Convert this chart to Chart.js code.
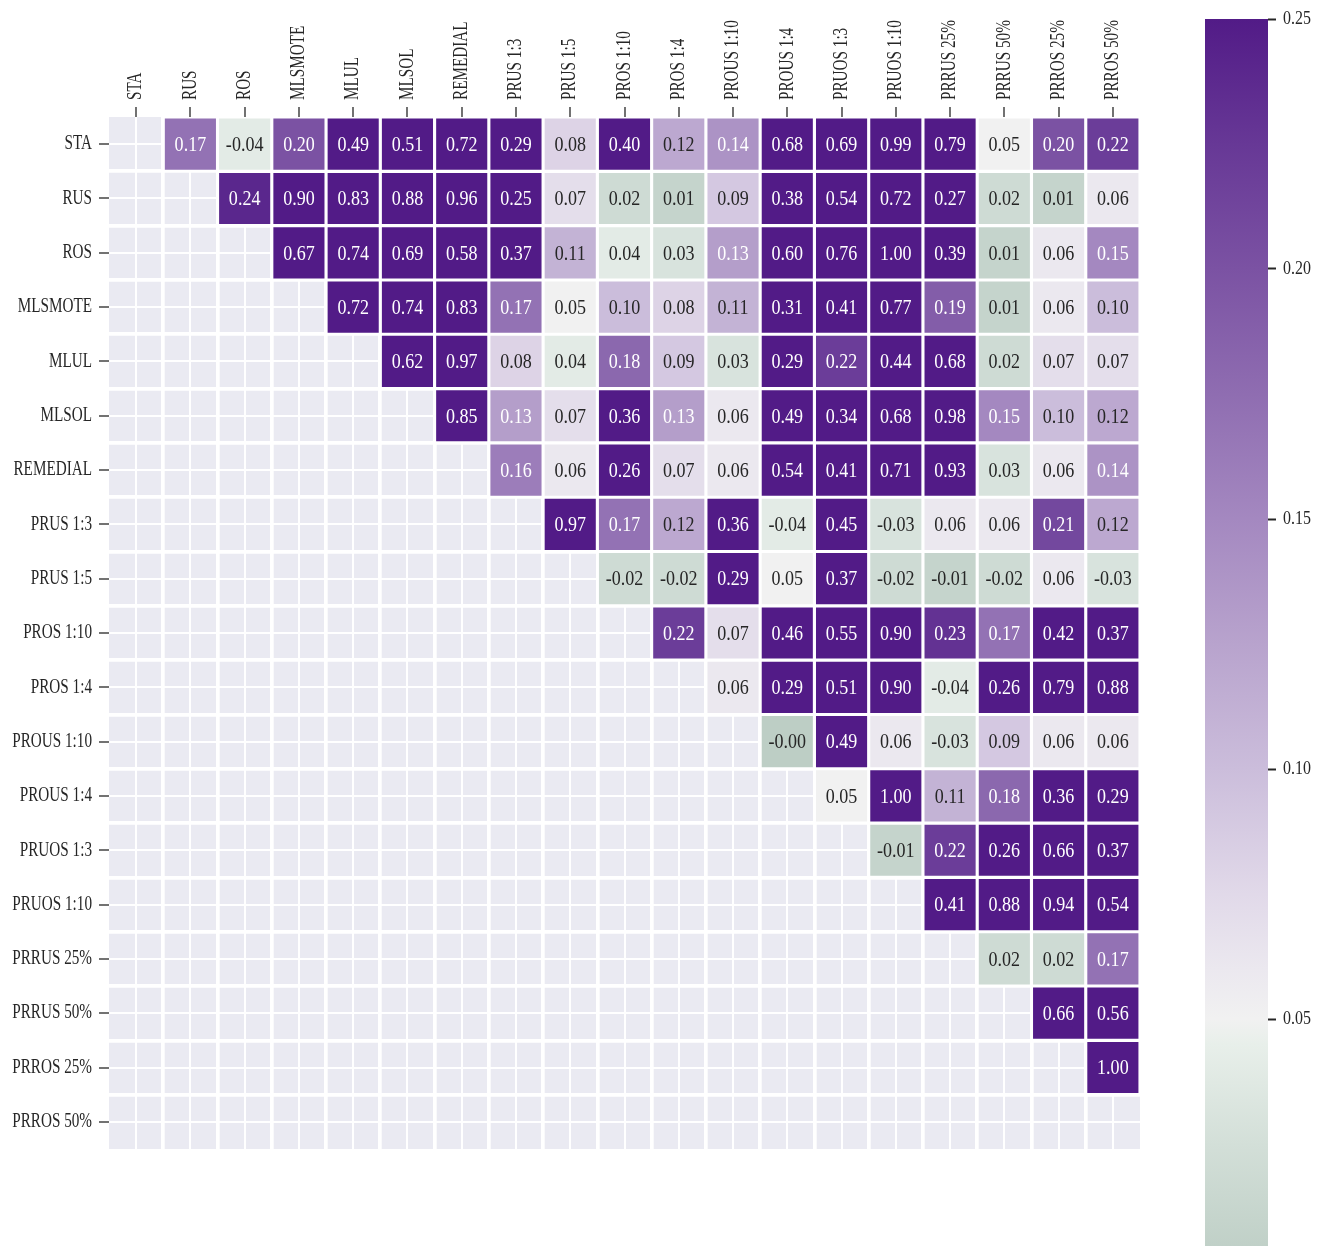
<!DOCTYPE html>
<html>
<head>
<meta charset="utf-8">
<title>Method correlation heatmap</title>
<script src="https://cdn.jsdelivr.net/npm/chart.js@4.4.1/dist/chart.umd.min.js"></script>
<style>
  html, body { margin: 0; padding: 0; background: #fff; overflow: hidden; }
  #wrap { position: relative; width: 1322px; height: 1246px; }
  #heat { position: absolute; left: 0; top: 0; }
  #bar { position: absolute; left: 1190px; top: 0; }
</style>
</head>
<body>
<div id="wrap">
  <canvas id="heat" width="1160" height="1246"></canvas>
  <canvas id="bar" width="132" height="1275"></canvas>
</div>
<script>
const methods = ['STA', 'RUS', 'ROS', 'MLSMOTE', 'MLUL', 'MLSOL', 'REMEDIAL', 'PRUS 1:3', 'PRUS 1:5',
  'PROS 1:10', 'PROS 1:4', 'PROUS 1:10', 'PROUS 1:4', 'PRUOS 1:3', 'PRUOS 1:10',
  'PRRUS 25%', 'PRRUS 50%', 'PRROS 25%', 'PRROS 50%'];

// upper triangle, one array per row, starting right of the diagonal
const rowSTA = [0.17, -0.04, 0.20, 0.49, 0.51, 0.72, 0.29, 0.08, 0.40, 0.12, 0.14, 0.68, 0.69, 0.99, 0.79, 0.05, 0.20, 0.22];
const rowRUS = [0.24, 0.90, 0.83, 0.88, 0.96, 0.25, 0.07, 0.02, 0.01, 0.09, 0.38, 0.54, 0.72, 0.27, 0.02, 0.01, 0.06];
const rowROS = [0.67, 0.74, 0.69, 0.58, 0.37, 0.11, 0.04, 0.03, 0.13, 0.60, 0.76, 1.00, 0.39, 0.01, 0.06, 0.15];
const rowMLSMOTE = [0.72, 0.74, 0.83, 0.17, 0.05, 0.10, 0.08, 0.11, 0.31, 0.41, 0.77, 0.19, 0.01, 0.06, 0.10];
const rowMLUL = [0.62, 0.97, 0.08, 0.04, 0.18, 0.09, 0.03, 0.29, 0.22, 0.44, 0.68, 0.02, 0.07, 0.07];
const rowMLSOL = [0.85, 0.13, 0.07, 0.36, 0.13, 0.06, 0.49, 0.34, 0.68, 0.98, 0.15, 0.10, 0.12];
const rowREMEDIAL = [0.16, 0.06, 0.26, 0.07, 0.06, 0.54, 0.41, 0.71, 0.93, 0.03, 0.06, 0.14];
const rowPRUS13 = [0.97, 0.17, 0.12, 0.36, -0.04, 0.45, -0.03, 0.06, 0.06, 0.21, 0.12];
const rowPRUS15 = [-0.02, -0.02, 0.29, 0.05, 0.37, -0.02, -0.01, -0.02, 0.06, -0.03];
const rowPROS110 = [0.22, 0.07, 0.46, 0.55, 0.90, 0.23, 0.17, 0.42, 0.37];
const rowPROS14 = [0.06, 0.29, 0.51, 0.90, -0.04, 0.26, 0.79, 0.88];
const rowPROUS110 = [-0.001, 0.49, 0.06, -0.03, 0.09, 0.06, 0.06];
const rowPROUS14 = [0.05, 1.00, 0.11, 0.18, 0.36, 0.29];
const rowPRUOS13 = [-0.01, 0.22, 0.26, 0.66, 0.37];
const rowPRUOS110 = [0.41, 0.88, 0.94, 0.54];
const rowPRRUS25 = [0.02, 0.02, 0.17];
const rowPRRUS50 = [0.66, 0.56];
const rowPRROS25 = [1.00];
const rowPRROS50 = [];

const upperRows = [rowSTA, rowRUS, rowROS, rowMLSMOTE, rowMLUL, rowMLSOL, rowREMEDIAL, rowPRUS13, rowPRUS15,
  rowPROS110, rowPROS14, rowPROUS110, rowPROUS14, rowPRUOS13, rowPRUOS110, rowPRRUS25, rowPRRUS50, rowPRROS25, rowPRROS50];

// colour bar range and ticks
const scaleMin = 0;
const scaleMax = 0.25;
const scaleTicks = [0.05, 0.10, 0.15, 0.20, 0.25];

// green -> light -> purple ramp, centred on 0.05
const ramp = [
  [0.000, '#bccdc4'], [0.025, '#d3dfd8'], [0.045, '#e8efea'], [0.050, '#f1f1f1'],
  [0.060, '#ebe8ef'], [0.075, '#e1d9e9'], [0.100, '#cbbddb'], [0.125, '#b8a3cd'],
  [0.150, '#a488c0'], [0.175, '#8f6db1'], [0.200, '#7b52a3'], [0.225, '#673896'], [0.250, '#521b87']
];

const ink = '#262626';
const serif = '"Liberation Serif", "DejaVu Serif", serif';

function hexToRgb(h) {
  const n = parseInt(h.slice(1), 16);
  return [(n >> 16) & 255, (n >> 8) & 255, n & 255];
}

// cells are shaded by magnitude
function colorFor(v) {
  const a = Math.min(Math.max(Math.abs(v), scaleMin), scaleMax);
  for (let i = 1; i < ramp.length; i++) {
    if (a <= ramp[i][0]) {
      const [v0, c0] = ramp[i - 1];
      const [v1, c1] = ramp[i];
      const t = (a - v0) / (v1 - v0);
      const p = hexToRgb(c0), q = hexToRgb(c1);
      return 'rgb(' + p.map((x, k) => Math.round(x + (q[k] - x) * t)).join(',') + ')';
    }
  }
  return ramp[ramp.length - 1][1];
}

// narrow serif text: draw with a horizontal squeeze
function squeezed(ctx, text, x, y, o) {
  ctx.save();
  ctx.translate(x, y);
  if (o.angle) ctx.rotate(o.angle);
  ctx.scale(o.squeeze, 1);
  ctx.font = o.font;
  ctx.fillStyle = o.color || ink;
  ctx.textAlign = o.align || 'center';
  ctx.textBaseline = 'middle';
  ctx.fillText(text, 0, 0);
  ctx.restore();
}

const cells = [];
upperRows.forEach((vals, i) => {
  vals.forEach((v, k) => {
    cells.push({ x: i + 1 + k, y: [i - 0.5, i + 0.5], v: v });
  });
});

const centres = methods.map((_, i) => i);
const edges = methods.slice(1).map((_, i) => i + 0.5);

const panelBackground = {
  id: 'panelBackground',
  beforeDraw(chart) {
    const { ctx, chartArea: a } = chart;
    ctx.save();
    ctx.fillStyle = '#eaeaf2';
    ctx.fillRect(a.left, a.top, a.right - a.left, a.bottom - a.top);
    ctx.restore();
  }
};

const methodLabels = {
  id: 'methodLabels',
  afterDraw(chart) {
    const { ctx, chartArea: a, scales } = chart;
    methods.forEach((name, i) => {
      squeezed(ctx, name, scales.x.getPixelForValue(i), a.top - 17,
        { angle: -Math.PI / 2, align: 'left', font: '20px ' + serif, squeeze: 0.76 });
      squeezed(ctx, name, a.left - 17, scales.y.getPixelForValue(i),
        { align: 'right', font: '20px ' + serif, squeeze: 0.76 });
    });
  }
};

const cellText = {
  id: 'cellText',
  afterDatasetsDraw(chart) {
    const { ctx } = chart;
    chart.getDatasetMeta(0).data.forEach((bar, k) => {
      const v = cells[k].v;
      squeezed(ctx, v.toFixed(2), bar.x, (bar.y + bar.base) / 2 + 1, {
        font: '22px ' + serif, squeeze: 0.82,
        color: Math.abs(v) > 0.125 ? '#ffffff' : ink
      });
    });
  }
};

new Chart(document.getElementById('heat'), {
  type: 'bar',
  data: {
    datasets: [{
      data: cells,
      backgroundColor: c => colorFor(c.raw.v),
      borderColor: '#ffffff',
      borderWidth: 1.9,
      borderSkipped: false,
      categoryPercentage: 1,
      barPercentage: 1
    }]
  },
  options: {
    responsive: false,
    animation: false,
    layout: { padding: { left: 0, top: 0, right: 20, bottom: 97 } },
    plugins: { legend: { display: false }, tooltip: { enabled: false } },
    scales: {
      x: {
        type: 'linear', position: 'top', min: -0.5, max: 18.5, offset: false,
        afterBuildTicks: s => { s.ticks = centres.map(v => ({ value: v })); },
        afterFit: s => { s.height = 117; },
        ticks: { display: false },
        grid: { offset: false, color: '#ffffff', lineWidth: 2, tickColor: ink, tickLength: 10, tickWidth: 1.3 },
        border: { display: false }
      },
      xEdges: {
        type: 'linear', position: 'top', min: -0.5, max: 18.5, offset: false,
        afterBuildTicks: s => { s.ticks = edges.map(v => ({ value: v })); },
        afterFit: s => { s.height = 0; },
        ticks: { display: false },
        grid: { offset: false, color: '#ffffff', lineWidth: 3.7, drawTicks: false },
        border: { display: false }
      },
      y: {
        type: 'linear', reverse: true, min: -0.5, max: 18.5,
        afterBuildTicks: s => {
          s.ticks = centres.concat(edges).sort((a, b) => a - b).map(v => ({ value: v }));
        },
        afterFit: s => { s.width = 109; },
        ticks: { display: false },
        grid: {
          color: '#ffffff',
          lineWidth: c => Number.isInteger(c.tick.value) ? 2 : 3.7,
          tickColor: c => Number.isInteger(c.tick.value) ? ink : 'rgba(0,0,0,0)',
          tickLength: 10,
          tickWidth: 1.3
        },
        border: { display: false }
      }
    }
  },
  plugins: [panelBackground, methodLabels, cellText]
});

// colour bar
const barLabels = {
  id: 'barLabels',
  afterDraw(chart) {
    const { ctx, chartArea: a, scales } = chart;
    scaleTicks.forEach(v => {
      squeezed(ctx, v.toFixed(2), a.right + 15, scales.y.getPixelForValue(v),
        { align: 'left', font: '19px ' + serif, squeeze: 0.84 });
    });
  }
};

new Chart(document.getElementById('bar'), {
  type: 'bar',
  data: {
    labels: [''],
    datasets: [{
      data: [[scaleMin, scaleMax]],
      backgroundColor: c => {
        const { chart } = c;
        if (!chart.chartArea) return ramp[0][1];
        const y = chart.scales.y;
        const g = chart.ctx.createLinearGradient(0, y.getPixelForValue(scaleMin), 0, y.getPixelForValue(scaleMax));
        ramp.forEach(([v, col]) => g.addColorStop((v - scaleMin) / (scaleMax - scaleMin), col));
        return g;
      },
      borderWidth: 0,
      categoryPercentage: 1,
      barPercentage: 1
    }]
  },
  options: {
    responsive: false,
    animation: false,
    layout: { padding: { left: 15, top: 19, right: 0, bottom: 6 } },
    plugins: { legend: { display: false }, tooltip: { enabled: false } },
    scales: {
      x: { display: false },
      y: {
        position: 'right', min: scaleMin, max: scaleMax,
        afterBuildTicks: s => { s.ticks = scaleTicks.map(v => ({ value: v })); },
        afterFit: s => { s.width = 54; },
        ticks: { display: false },
        grid: { drawOnChartArea: false, tickColor: ink, tickLength: 8, tickWidth: 2 },
        border: { display: false }
      }
    }
  },
  plugins: [barLabels]
});
</script>
</body>
</html>
